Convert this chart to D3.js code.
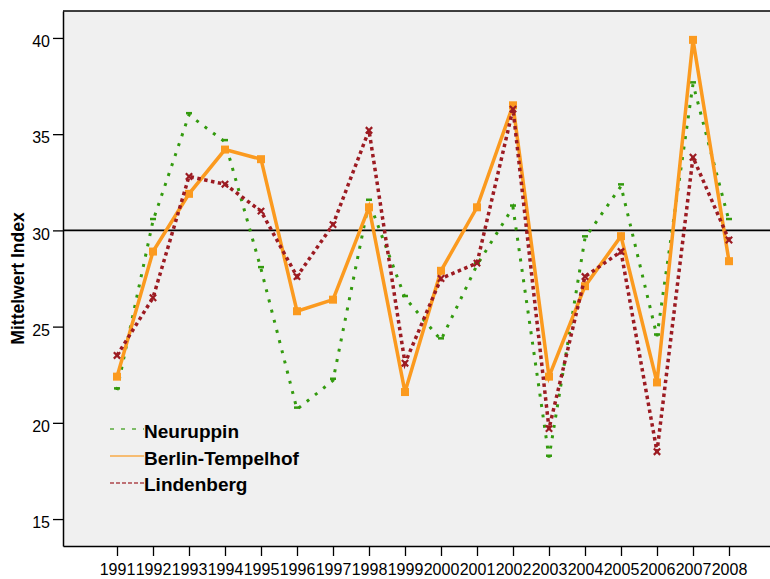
<!DOCTYPE html>
<html>
<head>
<meta charset="utf-8">
<script src="https://cdn.jsdelivr.net/npm/d3@7"></script>
<style>
  html, body { margin: 0; padding: 0; background: #fff; }
  svg { display: block; font-family: "Liberation Sans", Arial, sans-serif; }
</style>
</head>
<body>
<svg id="chart" width="770" height="579"></svg>
<script>
// Jahre der Messreihe
const years = [1991, 1992, 1993, 1994, 1995, 1996, 1997, 1998, 1999, 2000,
               2001, 2002, 2003, 2004, 2005, 2006, 2007, 2008];

// Mittelwert Index je Station
const neuruppin = [21.7, 30.5, 36.0, 34.6, 28.0, 20.7, 22.2, 31.5, 26.5, 24.3,
                   28.2, 31.2, 18.2, 29.6, 32.3, 24.5, 37.6, 30.5];
const tempelhof = [22.4, 28.9, 31.9, 34.2, 33.7, 25.8, 26.4, 31.2, 21.6, 27.9,
                   31.2, 36.5, 22.4, 27.1, 29.7, 22.1, 39.9, 28.4];
const lindenberg = [23.5, 26.5, 32.8, 32.4, 31.0, 27.6, 30.3, 35.2, 23.1, 27.5,
                    28.3, 36.3, 19.7, 27.6, 28.9, 18.5, 33.8, 29.5];

const yTicks = [15, 20, 25, 30, 35, 40];
const refValue = 30;
const seriesNames = ["Neuruppin", "Berlin-Tempelhof", "Lindenberg"];

const svg = d3.select("#chart");
const marginLeft = 63, marginTop = 11, plotW = 720, plotH = 535;

const x = d3.scalePoint().domain(years).range([0, plotW]).padding(1.5);
const y = d3.scaleLinear().domain([13.6, 41.4]).range([plotH, 0]);

const g = svg.append("g").attr("transform", `translate(${marginLeft},${marginTop})`);

// Plot background and frame
g.append("rect").attr("width", plotW).attr("height", plotH).attr("fill", "#f0f0f0");
g.append("line").attr("x1", 0).attr("x2", plotW).attr("y1", 0).attr("y2", 0)
  .attr("stroke", "#000").attr("stroke-width", 1.5);

// Axes
const yAxis = g.append("g")
  .call(d3.axisLeft(y).tickValues(yTicks).tickSize(10).tickPadding(4).tickSizeOuter(0));
yAxis.select(".domain").attr("stroke-width", 1.5);
yAxis.selectAll(".tick line").attr("stroke-width", 1.3);
yAxis.selectAll(".tick text")
  .attr("font-size", 16).attr("fill", "#000")
  .attr("font-family", "'Liberation Sans', Arial, sans-serif")
  .attr("dy", "0.55em").attr("x", -13);

const xAxis = g.append("g").attr("transform", `translate(0,${plotH})`)
  .call(d3.axisBottom(x).tickSize(10).tickPadding(8).tickSizeOuter(0).tickFormat(d3.format("d")));
xAxis.select(".domain").attr("stroke-width", 1.5);
xAxis.selectAll(".tick line").attr("stroke-width", 1.3);
xAxis.selectAll(".tick text")
  .attr("font-size", 16).attr("fill", "#000")
  .attr("font-family", "'Liberation Sans', Arial, sans-serif");

// Reference line at 30
g.append("line")
  .attr("x1", 0).attr("x2", plotW)
  .attr("y1", y(refValue)).attr("y2", y(refValue))
  .attr("stroke", "#000").attr("stroke-width", 1.8);

const line = d3.line().x((d, i) => x(years[i])).y(d => y(d));

const series = [
  { name: seriesNames[0], values: neuruppin, color: "#339a0e", width: 3, dash: "3,7.5", marker: "dash" },
  { name: seriesNames[1], values: tempelhof, color: "#fb9a1f", width: 3.5, dash: null, marker: "square" },
  { name: seriesNames[2], values: lindenberg, color: "#9c1b22", width: 3.5, dash: "3.5,3.5", marker: "x" }
];

series.forEach(s => {
  const p = g.append("path").datum(s.values)
    .attr("d", line)
    .attr("fill", "none")
    .attr("stroke", s.color)
    .attr("stroke-width", s.width)
    .attr("stroke-linejoin", "miter");
  if (s.dash) p.attr("stroke-dasharray", s.dash);

  const m = g.append("g");
  s.values.forEach((v, i) => {
    const cx = x(years[i]), cy = y(v);
    if (s.marker === "square") {
      m.append("rect").attr("x", cx - 4).attr("y", cy - 4)
        .attr("width", 8).attr("height", 8).attr("fill", s.color);
    } else if (s.marker === "dash") {
      m.append("rect").attr("x", cx - 3).attr("y", cy - 3)
        .attr("width", 6).attr("height", 2.5).attr("fill", s.color);
    } else {
      m.append("path")
        .attr("d", d3.symbol().type(d3.symbolX).size(28)())
        .attr("transform", `translate(${cx},${cy})`)
        .attr("fill", "none").attr("stroke", s.color).attr("stroke-width", 2.2);
    }
  });
});

// Legend
const legendRows = [
  { y: 429, base: 438, dash: "4,7" },
  { y: 456, base: 465, dash: null },
  { y: 483, base: 491, dash: "4,2" }
];
const lg = svg.append("g");
series.forEach((s, i) => {
  const r = legendRows[i];
  const ln = lg.append("line")
    .attr("x1", 110).attr("x2", 144)
    .attr("y1", r.y).attr("y2", r.y)
    .attr("stroke", s.color).attr("stroke-width", 1.6)
    .attr("stroke-opacity", 0.8);
  if (r.dash) ln.attr("stroke-dasharray", r.dash);
  lg.append("text")
    .attr("x", 144).attr("y", r.base)
    .attr("font-size", 19).attr("font-weight", "bold").attr("fill", "#000")
    .text(s.name);
});

// Y axis title
svg.append("text")
  .attr("transform", `translate(24,${marginTop + plotH / 2}) rotate(-90)`)
  .attr("text-anchor", "middle")
  .attr("font-size", 17.5).attr("font-weight", "bold").attr("fill", "#000")
  .text("Mittelwert Index");
</script>
</body>
</html>
